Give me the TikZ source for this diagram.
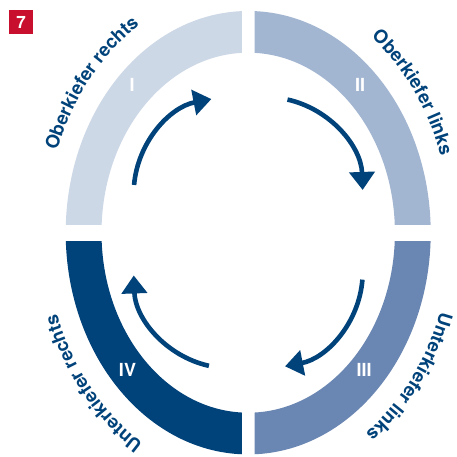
\documentclass[tikz,border=0pt]{standalone}
\usepackage{fontspec}
\setmainfont{TeX Gyre Heros}
\usetikzlibrary{arrows.meta,decorations.text}
\definecolor{bandI}{HTML}{CDD8E7}
\definecolor{bandII}{HTML}{A3B6D1}
\definecolor{bandIII}{HTML}{6A86B2}
\definecolor{bandIV}{HTML}{00427A}
\definecolor{navy}{HTML}{00427A}
\definecolor{badgered}{HTML}{C8102E}
\newcommand\lblfont{\fontsize{18.5}{20}\selectfont\bfseries\color{navy}}
\begin{document}
\begin{tikzpicture}[x=1pt,y=1pt,
  ring/.style={even odd rule},
  arrowline/.style={draw=navy, line width=4.6pt, -{Triangle[length=18pt,width=25pt]}},
  numeral/.style={text=white, font=\fontsize{18}{20}\selectfont\bfseries, inner sep=0pt},
  arctext/.style={decorate, decoration={text along path, text align=center, text format delimiters={|}{|}, text={|\lblfont|#1}}}]
\useasboundingbox (0,0) rectangle (457,457);
\fill[white] (0,0) rectangle (457,457);
\begin{scope}[shift={(248.2,224.3)}]
  % bands
  \begin{scope}
    \clip (-250,8.4) rectangle (-6.3,240);
    \fill[bandI, ring] (0,0) ellipse[x radius=182.5pt, y radius=221.7pt] (0,0) ellipse[x radius=146.7pt, y radius=180pt];
  \end{scope}
  \begin{scope}
    \clip (6.3,8.4) rectangle (250,240);
    \fill[bandII, ring] (0,0) ellipse[x radius=182.5pt, y radius=221.7pt] (0,0) ellipse[x radius=146.7pt, y radius=180pt];
  \end{scope}
  \begin{scope}
    \clip (6.3,-8.4) rectangle (250,-240);
    \fill[bandIII, ring] (0,0) ellipse[x radius=182.5pt, y radius=221.7pt] (0,0) ellipse[x radius=146.7pt, y radius=180pt];
  \end{scope}
  \begin{scope}
    \clip (-250,-8.4) rectangle (-6.3,-240);
    \fill[bandIV, ring] (0,0) ellipse[x radius=182.5pt, y radius=221.7pt] (0,0) ellipse[x radius=146.7pt, y radius=180pt];
  \end{scope}
  % labels along the outside
  \path[arctext={Oberkiefer rechts}] (170:202.6pt and 246.1pt) arc[start angle=170, end angle=111.6, x radius=202.6pt, y radius=246.1pt];
  \path[arctext={Oberkiefer links}] (66:202.6pt and 246.1pt) arc[start angle=66, end angle=6.4, x radius=202.6pt, y radius=246.1pt];
  \path[arctext={Unterkiefer links}] (-7.4:202.6pt and 246.1pt) arc[start angle=-7.4, end angle=-67.4, x radius=202.6pt, y radius=246.1pt];
  \path[arctext={Unterkiefer rechts}] (249.75:202.6pt and 246.1pt) arc[start angle=249.75, end angle=189.75, x radius=202.6pt, y radius=246.1pt];
  % cycle arrows
  \draw[arrowline] (-18.5,39.4) ++(175:96pt) arc[start angle=175, end angle=101, radius=96pt];
  \draw[arrowline] (18.5,39.4) ++(77.5:96pt) arc[start angle=77.5, end angle=2, radius=96pt];
  \draw[arrowline] (18.5,-39.4) ++(-4.5:96pt) arc[start angle=-4.5, end angle=-79, radius=96pt];
  \draw[arrowline] (-18.5,-39.4) ++(257.5:96pt) arc[start angle=257.5, end angle=182, radius=96pt];
\end{scope}
% numerals
\node[numeral] (nI) at (132,372) {I};
\node[numeral] (nII) at (360,372) {II};
\node[numeral] (nIII) at (364,87) {III};
\node[numeral] (nIV) at (127.5,87) {IV};
% badge
\node[fill=badgered, minimum width=24.3pt, minimum height=24.3pt, inner sep=0pt, text=white, font=\fontsize{17}{18}\selectfont\bfseries] (badge) at (21.2,434.9) {7};
\end{tikzpicture}
\end{document}
